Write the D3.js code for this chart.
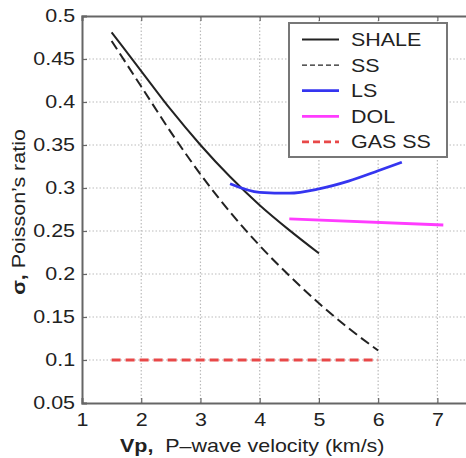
<!DOCTYPE html>
<html>
<head>
<meta charset="utf-8">
<script src="https://cdn.jsdelivr.net/npm/d3@7"></script>
<style>
  body { margin: 0; background: #fff; }
  text { font-family: "Liberation Sans", Arial, sans-serif; fill: #222; }
</style>
</head>
<body>
<script>
const width = 466,
    height = 458;

// Vp (km/s) and Poisson's ratio
const shaleVp = [1.5, 2, 2.5, 3, 3.5, 4, 4.5, 5];
const shaleSigma = [0.481, 0.436, 0.391, 0.350, 0.313, 0.280, 0.251, 0.224];

const ssVp = [1.5, 2, 2.5, 3, 3.5, 4, 4.5, 5, 5.5, 6];
const ssSigma = [0.471, 0.418, 0.365, 0.316, 0.272, 0.233, 0.198, 0.166, 0.137, 0.111];

const lsVp = [3.5, 4, 4.5, 5, 5.5, 6, 6.4];
const lsSigma = [0.305, 0.295, 0.294, 0.299, 0.308, 0.320, 0.330];

const dolVp = [4.5, 7.1];
const dolSigma = [0.264, 0.257];

const gasVp = [1.5, 6];
const gasSigma = [0.1, 0.1];

const xTicks = [1, 2, 3, 4, 5, 6, 7];
const yTicks = [0.05, 0.1, 0.15, 0.2, 0.25, 0.3, 0.35, 0.4, 0.45, 0.5];
const legendLabels = ['SHALE', 'SS', 'LS', 'DOL', 'GAS SS'];

const fontSize = 18.5, sx = 1.16;

const x = d3.scaleLinear().domain([1, 7.5]).range([82, 467]);
const y = d3.scaleLinear().domain([0.05, 0.5]).range([403, 16]);

const svg = d3.select('body').append('svg')
    .attr('width', width)
    .attr('height', height);

// grid
svg.append('g').selectAll('line.gx')
    .data(xTicks.slice(1))
    .enter().append('line')
    .attr('x1', d => x(d)).attr('x2', d => x(d))
    .attr('y1', y(0.05)).attr('y2', y(0.5))
    .attr('stroke', '#bbb').attr('stroke-width', 1.2)
    .attr('stroke-dasharray', '1.5,2');
svg.append('g').selectAll('line.gy')
    .data(yTicks.slice(1, -1))
    .enter().append('line')
    .attr('x1', x(1)).attr('x2', x(7.5))
    .attr('y1', d => y(d)).attr('y2', d => y(d))
    .attr('stroke', '#bbb').attr('stroke-width', 1.2)
    .attr('stroke-dasharray', '1.5,2');

// axes
const xAxis = d3.axisBottom(x).tickValues(xTicks).tickFormat(d3.format('d'))
    .tickSize(-5).tickPadding(10);
const yAxis = d3.axisLeft(y).tickValues(yTicks).tickFormat(d => d3.format('')(+d.toFixed(2)))
    .tickSize(-5).tickPadding(6);
const xTop = d3.axisTop(x).tickValues(xTicks).tickSize(-5).tickFormat('');

function styleAxis(g) {
    g.select('.domain').attr('stroke', '#666').attr('stroke-width', 2);
    g.selectAll('.tick line').attr('stroke', '#666').attr('stroke-width', 1.2);
    g.selectAll('text')
        .style('font-size', fontSize + 'px')
        .attr('fill', '#222')
        .each(function() {
            const t = d3.select(this);
            t.attr('transform', 'scale(' + sx + ',1)');
        });
}

svg.append('g').attr('transform', 'translate(0,' + y(0.05) + ')').call(xAxis).call(styleAxis);
svg.append('g').attr('transform', 'translate(' + x(1) + ',0)').call(yAxis).call(styleAxis);
svg.append('g').attr('transform', 'translate(0,' + y(0.5) + ')').call(xTop).call(styleAxis);

// series
const series = [
    {vp: shaleVp, s: shaleSigma, color: '#222', w: 2, dash: null},
    {vp: ssVp, s: ssSigma, color: '#222', w: 2, dash: '10,5'},
    {vp: lsVp, s: lsSigma, color: '#3535f0', w: 2.8, dash: null},
    {vp: dolVp, s: dolSigma, color: '#ff3cff', w: 2.8, dash: null},
    {vp: gasVp, s: gasSigma, color: '#e84848', w: 2.8, dash: '9,5'}
];

const line = d3.line()
    .x(d => x(d[0]))
    .y(d => y(d[1]))
    .curve(d3.curveMonotoneX);

series.forEach(sr => {
    svg.append('path')
        .datum(sr.vp.map((v, i) => [v, sr.s[i]]))
        .attr('d', line)
        .attr('fill', 'none')
        .attr('stroke', sr.color)
        .attr('stroke-width', sr.w)
        .attr('stroke-dasharray', sr.dash);
});

// legend
const legend = svg.append('g');
legend.append('rect')
    .attr('x', 289).attr('y', 23)
    .attr('width', 158).attr('height', 134)
    .attr('fill', '#fff')
    .attr('stroke', '#777').attr('stroke-width', 2);

legendLabels.forEach((lab, i) => {
    const ly = 39.5 + i * 25.6;
    const sr = series[i];
    legend.append('line')
        .attr('x1', 302).attr('x2', 339)
        .attr('y1', ly).attr('y2', ly)
        .attr('stroke', sr.color)
        .attr('stroke-width', i === 1 ? 1.3 : sr.w)
        .attr('stroke-dasharray', i === 1 ? '5,3' : (sr.dash ? '7,4' : null));
    legend.append('text')
        .attr('transform', 'translate(351,' + (ly + 6.5) + ') scale(' + sx + ',1)')
        .style('font-size', fontSize + 'px')
        .text(lab);
});

// axis titles
const xt = svg.append('text')
    .attr('transform', 'translate(120,452) scale(' + sx + ',1)')
    .style('font-size', fontSize + 'px');
xt.append('tspan').attr('font-weight', 'bold').text('Vp,');
xt.append('tspan').text('\u00a0 P\u2013wave velocity (km/s)');

const yt = svg.append('text')
    .attr('transform', 'translate(25,212) rotate(-90) scale(' + sx + ',1)')
    .attr('text-anchor', 'middle')
    .style('font-size', fontSize + 'px');
yt.append('tspan').attr('font-weight', 'bold').text('\u03c3,');
yt.append('tspan').text(' Poisson\u2019s ratio');
</script>
</body>
</html>
